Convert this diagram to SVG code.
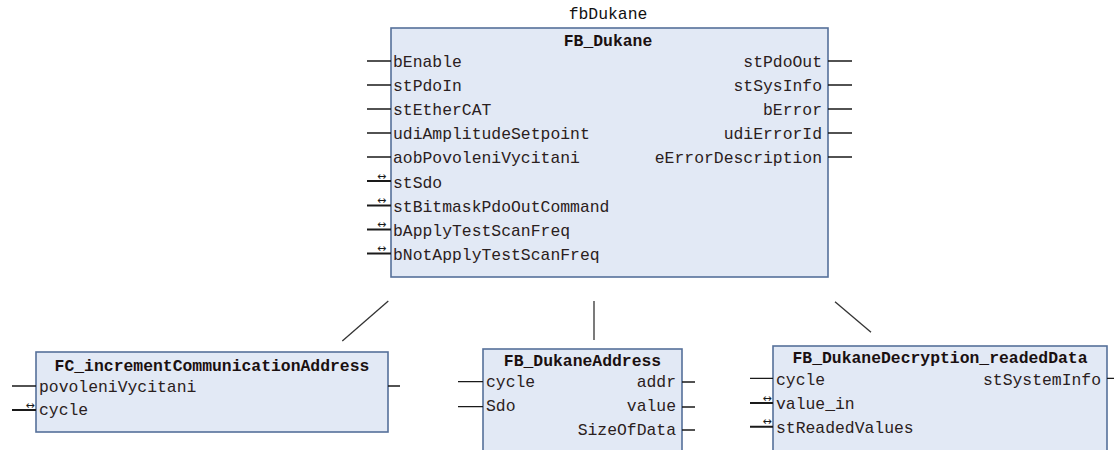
<svg xmlns="http://www.w3.org/2000/svg" width="1114" height="450" viewBox="0 0 1114 450">
<style>
.box{fill:#e2e9f5;stroke:#56709a;stroke-width:1.6}
.t{font-family:"Liberation Mono","Courier New",monospace;font-size:16.4px;fill:#2a2020}
.tt{font-family:"Liberation Mono","Courier New",monospace;font-size:16.4px;fill:#1a1010;font-weight:bold}
.r{text-anchor:end}
.m{text-anchor:middle}
.pin{stroke:#1a1a1a;stroke-width:1.3}
.io{stroke:#1a1a1a;stroke-width:2}
.ar{font-family:"DejaVu Sans",sans-serif;font-size:11px;fill:#1a1a1a;text-anchor:middle}
.con{stroke:#333;stroke-width:1.3;fill:none}
</style>
<rect width="1114" height="450" fill="#ffffff"/>
<text class="t m" x="608" y="19" style="fill:#111">fbDukane</text>
<g id="fbDukane">
<rect class="box" x="391" y="28" width="437" height="249"/>
<text class="tt m" x="608" y="46">FB_Dukane</text>
<g class="t">
<text x="393" y="67">bEnable</text>
<text x="393" y="91">stPdoIn</text>
<text x="393" y="115">stEtherCAT</text>
<text x="393" y="139">udiAmplitudeSetpoint</text>
<text x="393" y="163">aobPovoleniVycitani</text>
<text x="393" y="187.5">stSdo</text>
<text x="393" y="211.5">stBitmaskPdoOutCommand</text>
<text x="393" y="235.5">bApplyTestScanFreq</text>
<text x="393" y="259.5">bNotApplyTestScanFreq</text>
<text class="r" x="822" y="67">stPdoOut</text>
<text class="r" x="822" y="91">stSysInfo</text>
<text class="r" x="822" y="115">bError</text>
<text class="r" x="822" y="139">udiErrorId</text>
<text class="r" x="822" y="163">eErrorDescription</text>
</g>
<path class="pin" d="M367 61H391M367 85H391M367 109H391M367 133H391M367 157H391M828 61H852M828 85H852M828 109H852M828 133H852M828 157H852"/>
<path class="io" d="M367 181H391M367 205.5H391M367 229.5H391M367 253.5H391"/>
<text class="ar" x="381.5" y="179.5">↔</text>
<text class="ar" x="381.5" y="204">↔</text>
<text class="ar" x="381.5" y="228">↔</text>
<text class="ar" x="381.5" y="252">↔</text>
</g>
<g id="fcIncrement">
<rect class="box" x="36" y="352" width="352" height="80"/>
<text class="tt m" x="212" y="371">FC_incrementCommunicationAddress</text>
<text class="t" x="39" y="392">povoleniVycitani</text>
<text class="t" x="39" y="415">cycle</text>
<path class="pin" d="M12 386H36M388 386H400"/>
<path class="io" d="M12 410H36"/>
<text class="ar" x="30" y="408.5">↔</text>
</g>
<g id="fbDukaneAddress">
<rect class="box" x="483" y="349" width="199" height="120"/>
<text class="tt m" x="582.5" y="366">FB_DukaneAddress</text>
<text class="t" x="486" y="387">cycle</text>
<text class="t" x="486" y="411">Sdo</text>
<text class="t r" x="676" y="387">addr</text>
<text class="t r" x="676" y="411">value</text>
<text class="t r" x="676" y="434.5">SizeOfData</text>
<path class="pin" d="M458 381.7H483M458 406.7H483M682 382H695M682 407H695M682 430H695"/>
</g>
<g id="fbDukaneDecryption">
<rect class="box" x="773" y="346" width="334" height="120"/>
<text class="tt m" x="940" y="363">FB_DukaneDecryption_readedData</text>
<text class="t" x="776" y="385">cycle</text>
<text class="t" x="776" y="409">value_in</text>
<text class="t" x="776" y="433">stReadedValues</text>
<text class="t r" x="1101" y="385">stSystemInfo</text>
<path class="pin" d="M750 378.3H773M1107 378.3H1114"/>
<path class="io" d="M750 403H773M750 426.7H773"/>
<text class="ar" x="767" y="401.5">↔</text>
<text class="ar" x="767" y="425">↔</text>
</g>
<g id="connectors">
<path class="con" d="M388.3 301L342.3 341"/>
<path class="con" d="M594 301V340"/>
<path class="con" d="M835 301.7L871 332.3"/>
</g>
</svg>
